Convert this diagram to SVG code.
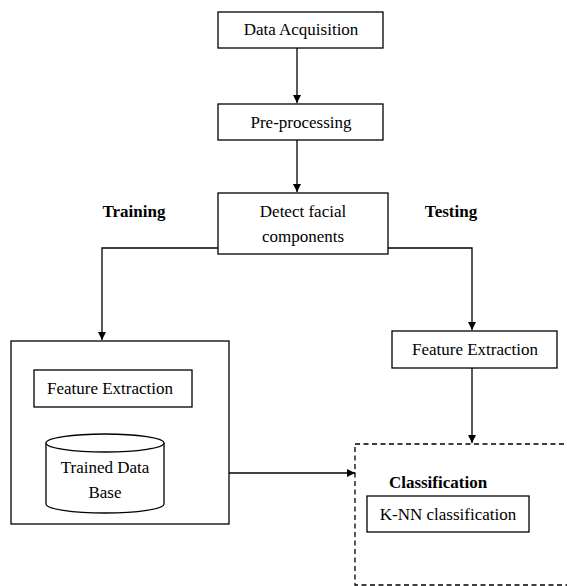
<svg xmlns="http://www.w3.org/2000/svg" width="567" height="586" viewBox="0 0 567 586">
<defs>
<marker id="ah" markerWidth="8" markerHeight="10" refX="8" refY="4" orient="auto" markerUnits="userSpaceOnUse">
<path d="M0,0 L8,4 L0,8 Z" fill="#000"/>
</marker>
<style>
.box{fill:#fff;stroke:#000;stroke-width:1.3}
.t{font-family:'Liberation Serif','Times New Roman',serif;font-size:17px;fill:#000;text-anchor:middle}
.b{font-weight:bold}
.c{fill:none;stroke:#000;stroke-width:1.3}
</style>
</defs>
<rect width="567" height="586" fill="#fff"/>
<g id="connectors">
<path class="c" d="M297,48 V103" marker-end="url(#ah)"/>
<path class="c" d="M297,140 V192" marker-end="url(#ah)"/>
<path class="c" d="M218,248 H102 V340" marker-end="url(#ah)"/>
<path class="c" d="M383,248 H472 V330" marker-end="url(#ah)"/>
<path class="c" d="M472,368 V443" marker-end="url(#ah)"/>
<path class="c" d="M103,407 V433" marker-end="url(#ah)"/>
<path class="c" d="M229,473 H355" marker-end="url(#ah)"/>
</g>
<g id="data-acquisition">
<rect class="box" x="218" y="12" width="165" height="36"/>
<text class="t" x="301" y="35">Data Acquisition</text>
</g>
<g id="pre-processing">
<rect class="box" x="218" y="104" width="165" height="36"/>
<text class="t" x="301" y="128">Pre-processing</text>
</g>
<g id="detect">
<rect class="box" x="218" y="193" width="170" height="61"/>
<text class="t" x="303" y="217">Detect facial</text>
<text class="t" x="303" y="242">components</text>
</g>
<g id="label-training"><text class="t b" x="134" y="217">Training</text></g>
<g id="label-testing"><text class="t b" x="451" y="217">Testing</text></g>
<g id="training-box">
<rect class="box" x="11" y="341" width="218" height="183"/>
</g>
<g id="feature-extraction-left">
<rect class="box" x="34" y="370" width="158" height="37"/>
<text class="t" x="110" y="394">Feature Extraction</text>
</g>
<g id="trained-db">
<path class="box" d="M46,443 V504 A59,9 0 0 0 164,504 V443"/>
<ellipse class="box" cx="105" cy="443" rx="59" ry="9"/>
<text class="t" x="105" y="473">Trained Data</text>
<text class="t" x="105" y="498">Base</text>
</g>
<g id="feature-extraction-right">
<rect class="box" x="392" y="331" width="165" height="37"/>
<text class="t" x="475" y="355">Feature Extraction</text>
</g>
<g id="classification">
<rect x="355" y="444" width="220" height="141" fill="none" stroke="#000" stroke-width="1.3" stroke-dasharray="5,3.5"/>
<text class="t b" x="438" y="488">Classification</text>
</g>
<g id="knn">
<rect class="box" x="367" y="496" width="162" height="36"/>
<text class="t" x="448" y="520">K-NN classification</text>
</g>
</svg>
